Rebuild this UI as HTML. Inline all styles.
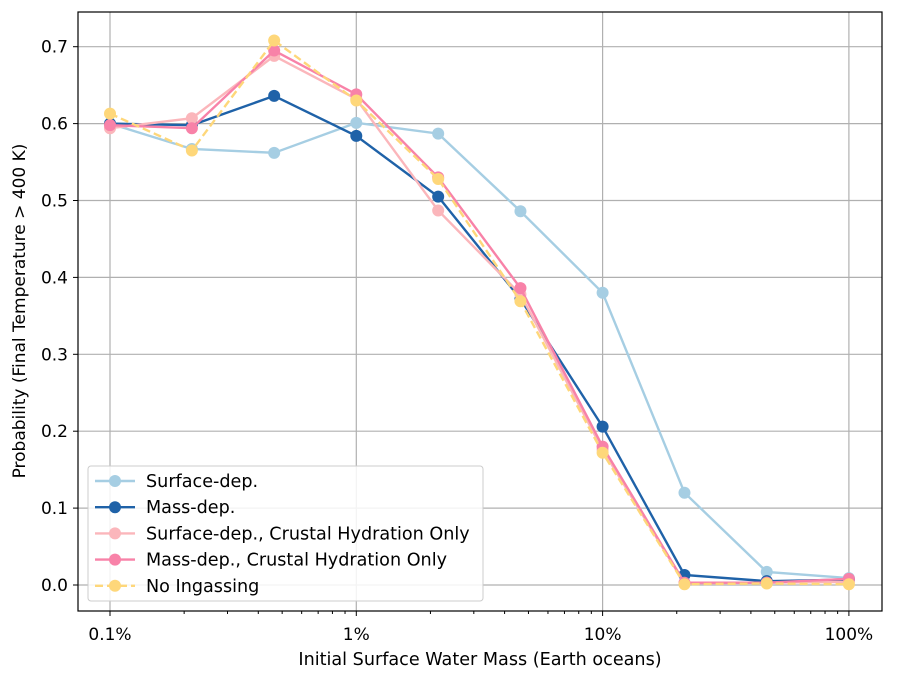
<!DOCTYPE html>
<html><head><meta charset="utf-8"><style>
body{margin:0;background:#fff;}
svg{display:block;font-family:"DejaVu Sans","Liberation Sans",sans-serif;}
</style></head><body>
<svg id="chart" width="898" height="680"></svg>
<script>
const xValues=[0.1,0.215,0.464,1,2.15,4.64,10,21.5,46.4,100];
const seriesNames=["Surface-dep.","Mass-dep.","Surface-dep., Crustal Hydration Only","Mass-dep., Crustal Hydration Only","No Ingassing"];
const surfaceDep=[0.600,0.567,0.562,0.601,0.587,0.486,0.380,0.120,0.017,0.009];
const massDep=[0.600,0.598,0.636,0.584,0.505,0.372,0.206,0.013,0.005,0.007];
const surfaceDepCH=[0.594,0.607,0.688,0.632,0.487,0.378,0.176,0.002,0.003,0.004];
const massDepCH=[0.598,0.594,0.695,0.638,0.530,0.386,0.180,0.003,0.003,0.008];
const noIngassing=[0.613,0.565,0.708,0.630,0.528,0.369,0.172,0.001,0.002,0.001];
const yTicks=[0,0.1,0.2,0.3,0.4,0.5,0.6,0.7];
const xTicks=[0.1,1,10,100];
const xTickLabels=["0.1%","1%","10%","100%"];

const NS="http://www.w3.org/2000/svg";
const svg=document.getElementById('chart');
const L=78,R=882,T=12,B=611;
function X(v){return 110+(Math.log10(v)+1)*246.3;}
function Y(v){return 585-v*769;}
function el(t,a,p){const e=document.createElementNS(NS,t);for(const k in a)e.setAttribute(k,a[k]);(p||svg).appendChild(e);return e;}

const grid=el('g',{});


yTicks.forEach(v=>{
  el('line',{x1:L,x2:R,y1:Y(v),y2:Y(v),stroke:'#b0b0b0','stroke-width':1.2},grid);
  el('line',{x1:L-5,x2:L,y1:Y(v),y2:Y(v),stroke:'#000'});
  const t=el('text',{x:L-10,y:Y(v)+6,'text-anchor':'end','font-size':17});
  t.textContent=v.toFixed(1);
  
  
});
xTicks.forEach((v,i)=>{
  el('line',{x1:X(v),x2:X(v),y1:T,y2:B,stroke:'#b0b0b0','stroke-width':1.2},grid);
  el('line',{x1:X(v),x2:X(v),y1:B,y2:B+5,stroke:'#000'});
  const t=el('text',{x:X(v),y:B+29,'text-anchor':'middle','font-size':17});
  t.textContent=xTickLabels[i];
  
  
});
for(let d=-1;d<2;d++)for(let m=2;m<10;m++){const v=m*Math.pow(10,d);el('line',{x1:X(v),x2:X(v),y1:B,y2:B+3,stroke:'#000'});}
el('rect',{x:L,y:T,width:R-L,height:B-T,fill:'none',stroke:'#000','stroke-width':1.2});

const colors=['#a6cee3','#1f62a8','#fbb6bb','#f882a8','#fed77a'];
const data=[surfaceDep,massDep,surfaceDepCH,massDepCH,noIngassing];
data.forEach((arr,si)=>{
  const g=el('g',{});
  
  
  const pts=arr.map((v,i)=>X(xValues[i])+','+Y(v)).join(' ');
  const pl=el('polyline',{points:pts,fill:'none',stroke:colors[si],'stroke-width':2.4},g);
  if(si==4)pl.setAttribute('stroke-dasharray','8,4');
  arr.forEach((v,i)=>{
    const c=el('circle',{cx:X(xValues[i]),cy:Y(v),r:6,fill:colors[si]},g);
    
    
  });
});

const lg=el('g',{});


el('rect',{x:88,y:466,width:395,height:135,rx:3,fill:'#fff','fill-opacity':0.85,stroke:'#ccc'},lg);
seriesNames.forEach((n,i)=>{
  const y=481+i*26.2;
  const ln=el('line',{x1:95,x2:135,y1:y,y2:y,stroke:colors[i],'stroke-width':2.4},lg);
  if(i==4)ln.setAttribute('stroke-dasharray','8,4');
  el('circle',{cx:115,cy:y,r:6,fill:colors[i]},lg);
  const t=el('text',{x:146,y:y+6,'font-size':17.6},lg);
  t.textContent=n;
  
  
});

const xt=el('text',{x:480,y:665,'text-anchor':'middle','font-size':17.6});
xt.textContent='Initial Surface Water Mass (Earth oceans)';


const yt=el('text',{x:0,y:0,'text-anchor':'middle','font-size':17,transform:'translate(25,311) rotate(-90)'});
yt.textContent='Probability (Final Temperature > 400 K)';


</script>
</body></html>
